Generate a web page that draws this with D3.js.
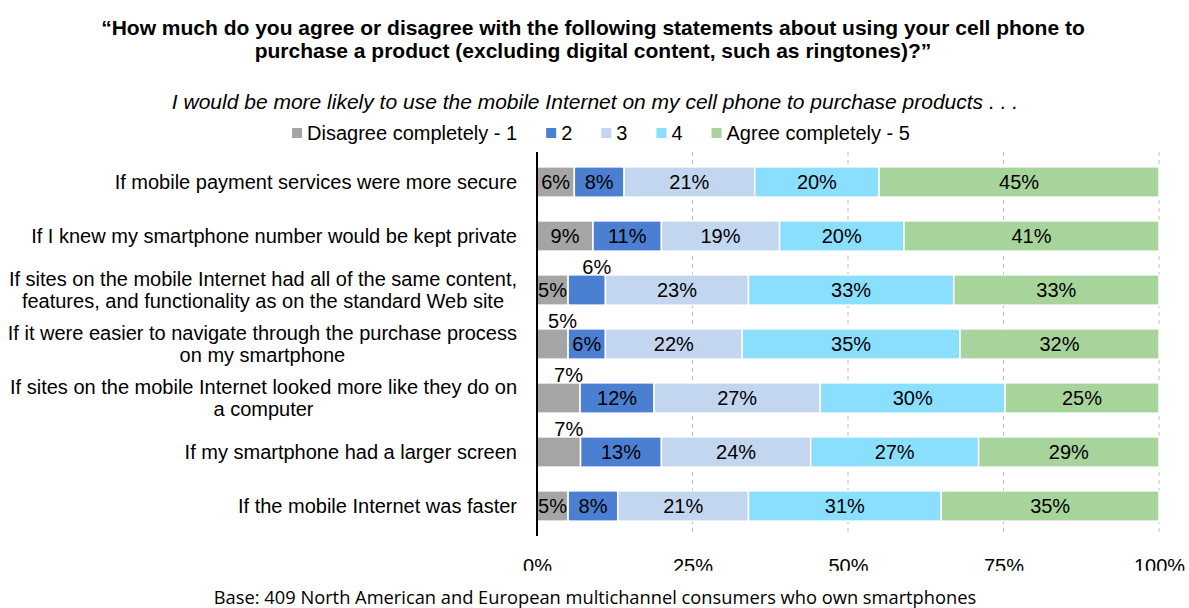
<!DOCTYPE html>
<html>
<head>
<meta charset="utf-8">
<script src="https://cdn.jsdelivr.net/npm/d3@7/dist/d3.min.js"></script>
<style>
  html, body { margin: 0; padding: 0; background: #fff; }
  svg { display: block; }
  text { font-family: "Liberation Sans", Arial, sans-serif; fill: #000; }
</style>
</head>
<body>
<svg id="chart" width="1189" height="608"></svg>
<script>
// Statements (line breaks mark where a label wraps)
const categories = [
  "If mobile payment services were more secure",
  "If I knew my smartphone number would be kept private",
  "If sites on the mobile Internet had all of the same content,\nfeatures, and functionality as on the standard Web site",
  "If it were easier to navigate through the purchase process\non my smartphone",
  "If sites on the mobile Internet looked more like they do on\na computer",
  "If my smartphone had a larger screen",
  "If the mobile Internet was faster"
];

const seriesNames = ["Disagree completely - 1", "2", "3", "4", "Agree completely - 5"];

// Percent of respondents per answer, one array per answer
const disagree1 = [6, 9, 5, 5, 7, 7, 5];
const answer2   = [8, 11, 6, 6, 12, 13, 8];
const answer3   = [21, 19, 23, 22, 27, 24, 21];
const answer4   = [20, 20, 33, 35, 30, 27, 31];
const agree5    = [45, 41, 33, 32, 25, 29, 35];

const tickValues = [0, 0.25, 0.5, 0.75, 1];

const titleLines = [
  "\u201CHow much do you agree or disagree with the following statements about using your cell phone to",
  "purchase a product (excluding digital content, such as ringtones)?\u201D"
];
const subtitle = "I would be more likely to use the mobile Internet on my cell phone to purchase products . . .";
const footnote = "Base: 409 North American and European multichannel consumers who own smartphones";

// Small segments whose labels sit above the bar: [row, series]
const raisedLabels = [[2, 1], [3, 0], [4, 0], [5, 0]];

const colors = ["#A5A5A5", "#4A7FD1", "#C3D6F0", "#8ADFFF", "#A7D49B"];

const rows = categories.map((c, i) => ({
  category: c,
  s0: disagree1[i], s1: answer2[i], s2: answer3[i], s3: answer4[i], s4: agree5[i]
}));
const keys = ["s0", "s1", "s2", "s3", "s4"];

const svg = d3.select("#chart");

const plotLeft = 537, plotRight = 1159, plotTop = 155, plotBottom = 533;

const x = d3.scaleLinear().domain([0, 1]).range([plotLeft, plotRight]);
const y = d3.scaleBand().domain(categories).range([plotTop, plotBottom])
  .paddingInner(0.44).paddingOuter(0.22);

const stacked = d3.stack().keys(keys).offset(d3.stackOffsetExpand)(rows);

// Titles
svg.append("g").selectAll("text").data(titleLines).join("text")
  .attr("x", 593).attr("y", (d, i) => 34.5 + i * 23)
  .attr("text-anchor", "middle")
  .style("font-weight", "bold").style("font-size", "21px")
  .text(d => d);

svg.append("text")
  .attr("x", 595).attr("y", 108.5)
  .attr("text-anchor", "middle")
  .style("font-style", "italic").style("font-size", "21px")
  .text(subtitle);

// Legend
const legend = svg.append("g");
let lx = 0;
seriesNames.forEach((name, i) => {
  const g = legend.append("g").attr("transform", `translate(${lx},0)`);
  g.append("rect").attr("x", 0).attr("y", -5).attr("width", 10).attr("height", 10)
    .attr("fill", colors[i]);
  const t = g.append("text").attr("x", 15).attr("y", 7)
    .style("font-size", "20px").text(name);
  lx += 15 + t.node().getComputedTextLength() + 29;
});
const legendWidth = lx - 29;
legend.attr("transform", `translate(${601 - legendWidth / 2},133)`);

// Gridlines
svg.append("g").selectAll("line").data(tickValues.slice(1)).join("line")
  .attr("x1", d => x(d)).attr("x2", d => x(d))
  .attr("y1", 152).attr("y2", 536)
  .attr("stroke", "#BFBFBF").attr("stroke-width", 1)
  .attr("stroke-dasharray", "4,4");

// Bars
const layers = svg.append("g").selectAll("g").data(stacked).join("g")
  .attr("fill", (d, i) => colors[i]);

layers.selectAll("rect").data(d => d).join("rect")
  .attr("x", d => x(d[0]))
  .attr("width", d => x(d[1]) - x(d[0]))
  .attr("y", d => y(d.data.category))
  .attr("height", y.bandwidth())
  .attr("stroke", "#fff").attr("stroke-width", 1.5);

// Category axis line
svg.append("line")
  .attr("x1", plotLeft).attr("x2", plotLeft)
  .attr("y1", 152).attr("y2", 536)
  .attr("stroke", "#000").attr("stroke-width", 2);

// Data labels
const labelG = svg.append("g");
stacked.forEach((layer, si) => {
  layer.forEach((d, ri) => {
    const value = rows[ri][keys[si]];
    const raised = raisedLabels.some(p => p[0] === ri && p[1] === si);
    const cx = (x(d[0]) + x(d[1])) / 2;
    const top = y(d.data.category);
    labelG.append("text")
      .attr("x", raised ? cx + 10 : cx)
      .attr("y", raised ? top - 1 : top + y.bandwidth() / 2 + 7)
      .attr("text-anchor", "middle")
      .style("font-size", "20px")
      .text(value + "%");
  });
});

// Category labels
const catG = svg.append("g");
categories.forEach(c => {
  const lines = c.split("\n");
  const cy = y(c) + y.bandwidth() / 2;
  const g = catG.append("g");
  const texts = lines.map((ln, i) => g.append("text")
    .attr("y", cy + 7 + (i - (lines.length - 1) / 2) * 22)
    .attr("text-anchor", "middle")
    .style("font-size", "20px")
    .text(ln));
  const w = d3.max(texts, t => t.node().getComputedTextLength());
  texts.forEach(t => t.attr("x", 517 - w / 2));
});

// Percent axis (tick labels cut at the lower edge of the chart frame)
svg.append("defs").append("clipPath").attr("id", "tickClip")
  .append("rect").attr("x", 0).attr("y", 540).attr("width", 1189).attr("height", 30.7);

const xAxis = d3.axisBottom(x).tickValues(tickValues)
  .tickFormat(d3.format(".0%")).tickSize(0).tickPadding(0);
const axisG = svg.append("g")
  .attr("clip-path", "url(#tickClip)")
  .append("g")
  .attr("transform", "translate(0,556)")
  .call(xAxis);
axisG.select(".domain").remove();
axisG.selectAll("text")
  .attr("dy", 0).attr("y", 16.5)
  .style("font-size", "20px")
  .style("font-family", "\"Liberation Sans\", Arial, sans-serif")
  .attr("fill", "#000");

// Footnote
svg.append("text")
  .attr("x", 595).attr("y", 604)
  .attr("text-anchor", "middle")
  .style("font-family", "\"Open Sans\", sans-serif")
  .style("font-size", "18.3px")
  .text(footnote);
</script>
</body>
</html>
